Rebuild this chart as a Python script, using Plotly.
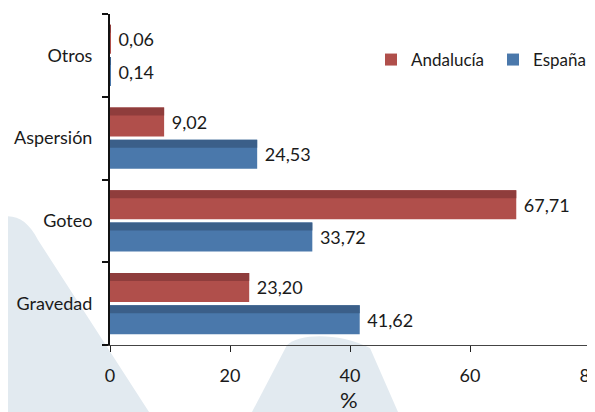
import plotly.graph_objects as go

categories = ["Gravedad", "Goteo", "Aspersión", "Otros"]
andalucia = [23.20, 67.71, 9.02, 0.06]
espana = [41.62, 33.72, 24.53, 0.14]
x_ticks = [0, 20, 40, 60, 80]

def fmt(v):
    return " " + f"{v:.2f}".replace(".", ",")

RED, RED_D = "#B04F4B", "#8F3D3C"
BLUE, BLUE_D = "#4A78AB", "#3B5F89"
FONT = "Lato, 'Open Sans', sans-serif"
TXT = "#1a1a1a"
FS = 18

# page has an 8px body margin; figure sized to fill the remaining window
W, H = 587, 404
L, R, T, B = 102, 5, 6, 67
pw, ph = W - L - R, H - T - B

def px2paper(sx, sy):
    # screen pixel -> paper coords
    return (sx - 8 - L) / pw, (T + ph - (sy - 8)) / ph

def path(points_cmds):
    out = []
    for cmd, pts in points_cmds:
        coords = []
        for (x, y) in pts:
            xp, yp = px2paper(x, y)
            coords.append(f"{xp:.4f},{yp:.4f}")
        out.append(cmd + " ".join(coords))
    return " ".join(out) + " Z"

bar_w = 0.35
band = 0.097

fig = go.Figure()
fig.add_trace(go.Bar(y=categories, x=andalucia, orientation="h", name="Andalucía",
                     marker=dict(color=RED, line=dict(width=0)), offset=0.02, width=bar_w,
                     text=[fmt(v) for v in andalucia], textposition="outside",
                     textfont=dict(family=FONT, size=FS, color=TXT), cliponaxis=False))
fig.add_trace(go.Bar(y=categories, x=andalucia, orientation="h", showlegend=False,
                     marker=dict(color=RED_D, line=dict(width=0)),
                     offset=0.02 + bar_w - band, width=band))
fig.add_trace(go.Bar(y=categories, x=espana, orientation="h", name="España",
                     marker=dict(color=BLUE, line=dict(width=0)), offset=-0.37, width=bar_w,
                     text=[fmt(v) for v in espana], textposition="outside",
                     textfont=dict(family=FONT, size=FS, color=TXT), cliponaxis=False))
fig.add_trace(go.Bar(y=categories, x=espana, orientation="h", showlegend=False,
                     marker=dict(color=BLUE_D, line=dict(width=0)),
                     offset=-0.37 + bar_w - band, width=band))

shape_color = "#E2EAF0"
left_shape = path([
    ("M", [(0, 412)]),
    ("L", [(0, 217)]),
    ("C", [(15, 214), (28, 220), (38, 240)]),
    ("L", [(149, 412)]),
])
bump_shape = path([
    ("M", [(252, 412)]),
    ("L", [(287, 345)]),
    ("C", [(300, 333), (340, 333), (370, 348)]),
    ("L", [(398, 412)]),
])

leg_x, leg_y = px2paper(371, 60)
pct_x, pct_y = px2paper(349, 399)
ax_end_x0, ax_end_y = px2paper(590, 345)
ax_end_x1, _ = px2paper(600, 345)

fig.update_layout(
    width=W, height=H,
    margin=dict(l=L, r=R, t=T, b=B, autoexpand=False),
    paper_bgcolor="white", plot_bgcolor="rgba(0,0,0,0)",
    barmode="overlay",
    font=dict(family=FONT, size=FS, color=TXT),
    showlegend=True,
    legend=dict(orientation="h", x=leg_x, xanchor="left", y=leg_y, yanchor="middle",
                entrywidth=77, entrywidthmode="pixels",
                font=dict(family=FONT, size=17, color=TXT), bgcolor="rgba(0,0,0,0)",
                traceorder="normal"),
    shapes=[
        dict(type="path", path=left_shape, xref="paper", yref="paper",
             fillcolor=shape_color, line=dict(width=0), layer="below"),
        dict(type="path", path=bump_shape, xref="paper", yref="paper",
             fillcolor=shape_color, line=dict(width=0), layer="below"),
        dict(type="line", x0=ax_end_x0, x1=ax_end_x1, y0=ax_end_y, y1=ax_end_y,
             xref="paper", yref="paper", line=dict(color="#444", width=1.3)),
    ],
    annotations=[dict(text="%", x=pct_x, y=pct_y, xref="paper", yref="paper",
                      xanchor="center", yanchor="middle", showarrow=False,
                      font=dict(family=FONT, size=22, color=TXT))],
)
fig.update_xaxes(range=[0, 80], tickvals=x_ticks, ticktext=[str(v) for v in x_ticks],
                 automargin=False, ticklabeloverflow="allow",
                 showgrid=False, zeroline=False, showline=True, linecolor="#444", linewidth=1.3,
                 ticks="outside", ticklen=6, tickcolor="#222", tickwidth=1.3,
                 ticklabelstandoff=8, tickfont=dict(size=FS, color=TXT))
fig.update_yaxes(categoryorder="array", categoryarray=categories, automargin=False,
                 range=[-0.5, 3.5], showgrid=False, zeroline=False,
                 showline=True, linecolor="#111", linewidth=2,
                 ticks="outside", tickson="boundaries", ticklen=6, tickcolor="#111", tickwidth=1.5,
                 ticklabelstandoff=12, tickfont=dict(size=FS, color=TXT))

fig.write_html("out.html")
